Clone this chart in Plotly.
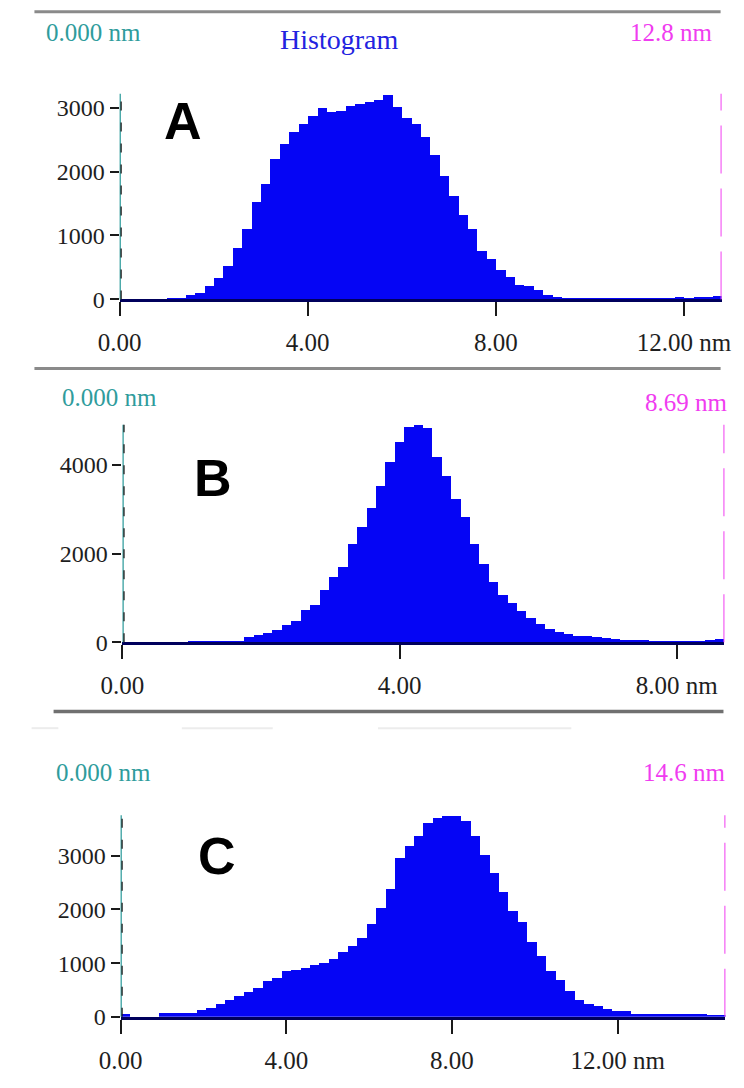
import plotly.graph_objects as go

# ---------------------------------------------------------------- data
# Particle-size histograms, 64 bins spanning 0 .. cursor limit (nm)
range_a = 12.8
range_b = 8.69
range_c = 14.6

counts_a = [3, 3, 4, 5, 8, 12, 25, 67, 103, 206, 335, 531, 804, 1098, 1526, 1804,
            2191, 2438, 2619, 2747, 2876, 2990, 2928, 2954, 3021, 3052, 3093, 3124, 3206, 3005, 2835, 2747,
            2541, 2268, 1938, 1613, 1330, 1098, 763, 634, 464, 351, 222, 215, 144, 67, 35, 25,
            20, 18, 16, 15, 14, 13, 12, 12, 12, 14, 18, 40, 25, 45, 40, 50]

counts_b = [5, 5, 5, 5, 5, 6, 8, 10, 12, 15, 20, 25, 35, 111, 163, 222,
            282, 385, 482, 741, 852, 1186, 1482, 1690, 2223, 2608, 3038, 3520, 4061, 4520, 4853, 4889,
            4830, 4187, 3742, 3223, 2816, 2223, 1778, 1371, 1075, 889, 704, 556, 407, 296, 237, 185,
            148, 133, 120, 90, 70, 60, 50, 45, 40, 35, 30, 28, 25, 30, 45, 70]

counts_c = [55, 0, 0, 0, 60, 62, 65, 70, 117, 166, 227, 301, 381, 460, 534, 657,
            718, 841, 872, 915, 964, 995, 1075, 1210, 1320, 1467, 1732, 2020, 2380, 2960, 3174, 3371,
            3604, 3696, 3739, 3739, 3653, 3371, 3021, 2683, 2327, 1977, 1762, 1394, 1136, 841, 688, 473,
            301, 240, 196, 135, 104, 104, 55, 55, 55, 55, 55, 55, 55, 55, 31, 12]

xticks_a = [0, 4, 8, 12]
xlabels_a = ["0.00", "4.00", "8.00", "12.00 nm"]
xticks_b = [0, 4, 8]
xlabels_b = ["0.00", "4.00", "8.00 nm"]
xticks_c = [0, 4, 8, 12]
xlabels_c = ["0.00", "4.00", "8.00", "12.00 nm"]

yticks_a = [0, 1000, 2000, 3000]
yticks_b = [0, 2000, 4000]
yticks_c = [0, 1000, 2000, 3000]

panel_letters = ["A", "B", "C"]
left_cursor = "0.000 nm"
right_cursors = ["12.8 nm", "8.69 nm", "14.6 nm"]

# ---------------------------------------------------------------- styling
W, H = 744, 1088
BAR = "#0505f5"
NAVY = "#00005c"
TEAL = "#2f9c9c"
MAGENTA = "#f03cf0"
TITLE_BLUE = "#2323e0"
SERIF = "Liberation Serif, Times New Roman, serif"
SANS = "Liberation Sans, Arial, sans-serif"


def fx(p):
    return p / W


def fy(p):
    return 1 - p / H


# plot boxes in pixels: left, right, top, bottom ; y max
panels = [
    dict(counts=counts_a, xmax=range_a, box=(102, 731, 95, 303), ymax=3215,
         xt=xticks_a, xl=xlabels_a, yt=yticks_a, letter=(168, 122),
         lcur=(23, 33), rcur=(724, 33)),
    dict(counts=counts_b, xmax=range_b, box=(105, 734, 430, 650), ymax=4900,
         xt=xticks_b, xl=xlabels_b, yt=yticks_b, letter=(200, 484),
         lcur=(40, 402), rcur=(740, 407)),
    dict(counts=counts_c, xmax=range_c, box=(103, 735, 825, 1029), ymax=3760,
         xt=xticks_c, xl=xlabels_c, yt=yticks_c, letter=(204, 866),
         lcur=(33, 782), rcur=(738, 782)),
]

fig = go.Figure()
layout = dict(
    width=W, height=H,
    margin=dict(l=0, r=0, t=0, b=0),
    paper_bgcolor="white", plot_bgcolor="white",
    showlegend=False, bargap=0,
)
shapes = []
annotations = []

for k, p in enumerate(panels):
    n = "" if k == 0 else str(k + 1)
    vals = p["counts"]
    w = p["xmax"] / len(vals)
    centers = [(i + 0.5) * w for i in range(len(vals))]
    fig.add_trace(go.Bar(
        x=centers, y=vals, width=w,
        marker=dict(color=BAR, line=dict(width=0)),
        xaxis="x" + n, yaxis="y" + n, hoverinfo="skip",
    ))
    l, r, t, b = p["box"]
    layout["xaxis" + n] = dict(
        domain=[fx(l), fx(r)], range=[0, p["xmax"]], anchor="y" + n,
        tickmode="array", tickvals=p["xt"], ticktext=p["xl"],
        showgrid=False, zeroline=False,
        showline=True, linecolor=NAVY, linewidth=3,
        ticks="outside", ticklen=14, tickwidth=2, tickcolor="#1a1a1a",
        ticklabelstandoff=5,
        tickfont=dict(family=SERIF, size=25, color="#1e1e1e"),
        fixedrange=True,
    )
    layout["yaxis" + n] = dict(
        domain=[fy(b), fy(t)], range=[0, p["ymax"]], anchor="x" + n,
        tickmode="array", tickvals=p["yt"], ticktext=[str(v) for v in p["yt"]],
        showgrid=False, zeroline=False, showline=False,
        ticks="outside", ticklen=9, tickwidth=1.5, tickcolor="#1a1a1a",
        tickfont=dict(family=SERIF, size=24, color="#1e1e1e"),
        fixedrange=True,
    )
    # left cursor at 0 nm (teal) with the black dashed axis beside it
    shapes.append(dict(type="line", xref="x" + n, yref="y" + n + " domain",
                       x0=0, x1=0, y0=0, y1=1,
                       line=dict(color=TEAL, width=2.5), layer="above"))
    shapes.append(dict(type="line", xref="x" + n, yref="y" + n + " domain",
                       xsizemode="pixel", xanchor=0, x0=1.5, x1=1.5, y0=0, y1=1,
                       line=dict(color="#1a1a1a", width=1.3, dash="9px,12px"), layer="above"))
    # right cursor (magenta, dashed)
    shapes.append(dict(type="line", xref="x" + n, yref="y" + n + " domain",
                       x0=p["xmax"], x1=p["xmax"], y0=0, y1=1,
                       line=dict(color=MAGENTA, width=2, dash="48px,15px"), layer="above"))
    # cursor readouts
    lx, ly = p["lcur"]
    annotations.append(dict(xref="paper", yref="paper", x=fx(lx), y=fy(ly),
                            xanchor="left", yanchor="middle", showarrow=False,
                            text=left_cursor,
                            font=dict(family=SERIF, size=25, color=TEAL)))
    rx, ry = p["rcur"]
    annotations.append(dict(xref="paper", yref="paper", x=fx(rx), y=fy(ry),
                            xanchor="right", yanchor="middle", showarrow=False,
                            text=right_cursors[k],
                            font=dict(family=SERIF, size=25, color=MAGENTA)))
    # panel letter
    cx, cy = p["letter"]
    annotations.append(dict(xref="paper", yref="paper", x=fx(cx), y=fy(cy),
                            xanchor="center", yanchor="middle", showarrow=False,
                            text="<b>" + panel_letters[k] + "</b>",
                            font=dict(family=SANS, size=52, color="black")))

annotations.append(dict(xref="paper", yref="paper", x=fx(267), y=fy(40),
                        xanchor="left", yanchor="middle", showarrow=False,
                        text="Histogram",
                        font=dict(family=SERIF, size=28, color=TITLE_BLUE)))

# window separators
for y0, xa, xb, col, lw in [(12, 13, 730, "#8a8a8a", 3),
                            (373, 13, 730, "#8a8a8a", 3),
                            (720, 33, 733, "#707070", 3.5)]:
    shapes.append(dict(type="line", xref="paper", yref="paper",
                       x0=fx(xa), x1=fx(xb), y0=fy(y0), y1=fy(y0),
                       line=dict(color=col, width=lw)))
for xa, xb in [(10, 38), (167, 262), (372, 574)]:
    shapes.append(dict(type="line", xref="paper", yref="paper",
                       x0=fx(xa), x1=fx(xb), y0=fy(737), y1=fy(737),
                       line=dict(color="#ececec", width=2)))

layout["shapes"] = shapes
layout["annotations"] = annotations
fig.update_layout(**layout)
fig.write_html("out.html")
